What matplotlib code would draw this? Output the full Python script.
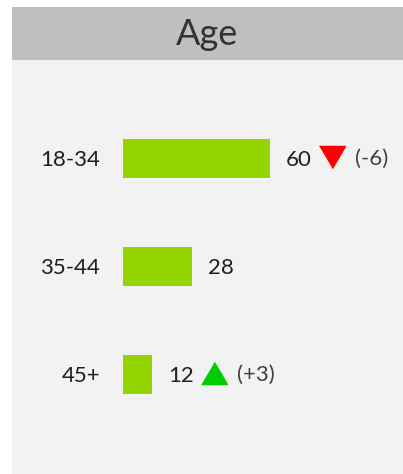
import matplotlib
matplotlib.use("Agg")
import matplotlib.pyplot as plt
from matplotlib import transforms
from matplotlib.patches import Rectangle

# data
categories = ['18-34', '35-44', '45+']
values = [60, 28, 12]
changes = [-6, None, 3]
title = 'Age'

W, H = 403, 474
DPI = 100
BAR_COLOR = '#94d500'
TEXT_COLOR = '#1e1e1e'
plt.rcParams['font.family'] = ['Lato', 'DejaVu Sans']

fig = plt.figure(figsize=(W / DPI, H / DPI), dpi=DPI)
fig.patch.set_facecolor('white')

# panel background and header band (pixel coords from top-left)
def px_rect(x0, y0, x1, y1, color):
    fig.patches.append(Rectangle((x0 / W, 1 - y1 / H), (x1 - x0) / W, (y1 - y0) / H,
                                 transform=fig.transFigure, facecolor=color,
                                 edgecolor='none', zorder=0))

px_rect(12, 7, W, H, '#f2f2f2')
px_rect(12, 7, W, 60, '#bfbfbf')
fig.text((12 + W) / 2 / W, 1 - 45 / H, title, ha='center', va='baseline',
         fontsize=26, color='#333333')

# axes: x=0 at 123px, 2.45 px per unit; rows 108 px apart
px_per_unit = 2.45
left, right = 123, W
top, bottom = 104.5, 428.5
ax = fig.add_axes([left / W, 1 - bottom / H, (right - left) / W, (bottom - top) / H])
ax.set_zorder(2)
ax.set_xlim(0, (right - left) / px_per_unit)
ax.set_ylim(len(categories) - 0.5, -0.5)
ax.patch.set_alpha(0)
for s in ax.spines.values():
    s.set_visible(False)
ax.set_xticks([])

ypos = list(range(len(categories)))
ax.barh(ypos, values, height=0.36, color=BAR_COLOR, edgecolor='none')
ax.set_yticks(ypos)
ax.set_yticklabels(categories, fontsize=16, color=TEXT_COLOR)
ax.tick_params(axis='y', length=0, pad=16.5)

pt = 72 / DPI  # points per pixel
for i, (v, c) in enumerate(zip(values, changes)):
    ax.annotate(str(v), (v, i), xytext=(16 * pt, -1.5 * pt), textcoords='offset points',
                ha='left', va='center', fontsize=16, color=TEXT_COLOR)
    if c is None:
        continue
    up = c > 0
    tri = [(-1, -0.85), (1, -0.85), (0, 0.85)] if up else [(-1, 0.85), (1, 0.85), (0, -0.85)]
    off = transforms.offset_copy(ax.transData, fig=fig, x=62 * pt, y=2 * pt, units='points')
    ax.plot([v], [i], marker=tri, markersize=26 * pt, color='#00cc00' if up else '#ff0000',
            linestyle='none', transform=off, clip_on=False)
    ax.annotate('(%+d)' % c, (v, i), xytext=(85 * pt, 0), textcoords='offset points',
                ha='left', va='center', fontsize=16, color='#404040')

fig.savefig('out.png', dpi=DPI, facecolor=fig.get_facecolor())
